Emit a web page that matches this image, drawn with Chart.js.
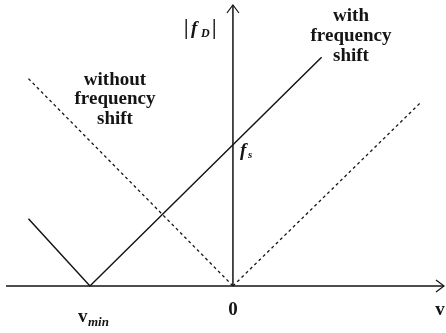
<!DOCTYPE html>
<html>
<head>
<meta charset="utf-8">
<script src="https://cdn.jsdelivr.net/npm/chart.js@4/dist/chart.umd.min.js"></script>
<style>
  html, body { margin: 0; padding: 0; background: #fff; }
  #wrap { width: 446px; height: 333px; position: relative; }
</style>
</head>
<body>
<div id="wrap"><canvas id="doppler"></canvas></div>
<script>
// |f_D| against v, with and without the frequency shift
const withShiftV = [-1.43, -1.0, 0.62];
const withShiftF = [0.47, 0.0, 1.6];
const noShiftLeftV = [-1.43, 0.0];
const noShiftLeftF = [1.45, 0.0];
const noShiftRightV = [0.0, 1.32];
const noShiftRightF = [0.0, 1.29];

const vMin = -1.0;
const fShift = 1.0;

const xRange = [-1.594, 1.476];
const yRange = [-0.329, 1.965];

const ink = '#141414';
const serif = '"Liberation Serif", "DejaVu Serif", serif';

const toPoints = (vs, fs) => vs.map((v, i) => ({ x: v, y: fs[i] }));

// axes with arrowheads plus the hand-placed labels
const sketchPlugin = {
  id: 'sketch',
  beforeDatasetsDraw(chart) {
    const { ctx, scales: { x, y } } = chart;
    const x0 = x.getPixelForValue(0);
    const y0 = y.getPixelForValue(0);
    const left = x.getPixelForValue(xRange[0]) + 1;
    const right = x.getPixelForValue(xRange[1]);
    const top = y.getPixelForValue(yRange[1]);
    ctx.save();
    ctx.strokeStyle = ink;
    ctx.lineWidth = 1.5;
    ctx.beginPath();
    ctx.moveTo(left, y0); ctx.lineTo(right, y0);
    ctx.moveTo(x0, y0); ctx.lineTo(x0, top);
    ctx.stroke();
    ctx.lineWidth = 1.2;
    ctx.beginPath();
    ctx.moveTo(right - 8, y0 - 6); ctx.lineTo(right, y0); ctx.lineTo(right - 8, y0 + 6);
    ctx.moveTo(x0 - 6, top + 8); ctx.lineTo(x0, top); ctx.lineTo(x0 + 6, top + 8);
    ctx.stroke();
    ctx.restore();
  },
  afterDatasetsDraw(chart) {
    const { ctx, scales: { x, y } } = chart;
    const x0 = x.getPixelForValue(0);
    const y0 = y.getPixelForValue(0);
    ctx.save();
    ctx.fillStyle = ink;
    ctx.textAlign = 'center';
    ctx.textBaseline = 'middle';
    ctx.font = `bold 19px ${serif}`;

    ctx.fillText('0', x0, y0 + 24);
    ctx.fillText('v', x.getPixelForValue(xRange[1]) - 4, y0 + 24);

    // v_min below the vertex
    const xm = x.getPixelForValue(vMin);
    ctx.textAlign = 'left';
    ctx.fillText('v', xm - 12, y0 + 31);
    ctx.font = `bold italic 13px ${serif}`;
    ctx.fillText('min', xm - 2, y0 + 37);

    // f_s where the shifted line crosses the axis
    const ys = y.getPixelForValue(fShift);
    ctx.font = `bold italic 19px ${serif}`;
    ctx.fillText('f', x0 + 7, ys + 8);
    ctx.font = `bold italic 11px ${serif}`;
    ctx.fillText('s', x0 + 15, ys + 12);

    // |f_D| beside the vertical axis
    ctx.font = `bold 20px ${serif}`;
    ctx.fillText('|', x0 - 49, 29);
    ctx.fillText('|', x0 - 21, 29);
    ctx.font = `bold italic 19px ${serif}`;
    ctx.fillText('f', x0 - 42, 29);
    ctx.font = `bold italic 12px ${serif}`;
    ctx.fillText('D', x0 - 32, 34);

    ctx.textAlign = 'center';
    ctx.font = `bold 19px ${serif}`;
    ['with', 'frequency', 'shift'].forEach((t, i) => ctx.fillText(t, 351, 16 + i * 20));
    ['without', 'frequency', 'shift'].forEach((t, i) => ctx.fillText(t, 115, 80 + i * 19.5));
    ctx.restore();
  }
};

new Chart(document.getElementById('doppler'), {
  type: 'scatter',
  data: {
    datasets: [
      { data: toPoints(withShiftV, withShiftF), showLine: true, borderColor: ink, borderWidth: 1.5, pointRadius: 0 },
      { data: toPoints(noShiftLeftV, noShiftLeftF), showLine: true, borderColor: ink, borderWidth: 1.3, borderDash: [3, 3], pointRadius: 0 },
      { data: toPoints(noShiftRightV, noShiftRightF), showLine: true, borderColor: ink, borderWidth: 1.3, borderDash: [3, 3], pointRadius: 0 },
    ],
  },
  options: {
    responsive: true,
    maintainAspectRatio: false,
    animation: false,
    layout: { padding: { left: 5, right: 2, top: 5, bottom: 0 } },
    plugins: { legend: { display: false }, tooltip: { enabled: false } },
    scales: {
      x: { type: 'linear', display: false, min: xRange[0], max: xRange[1] },
      y: { type: 'linear', display: false, min: yRange[0], max: yRange[1] },
    },
  },
  plugins: [sketchPlugin],
});
</script>
</body>
</html>
